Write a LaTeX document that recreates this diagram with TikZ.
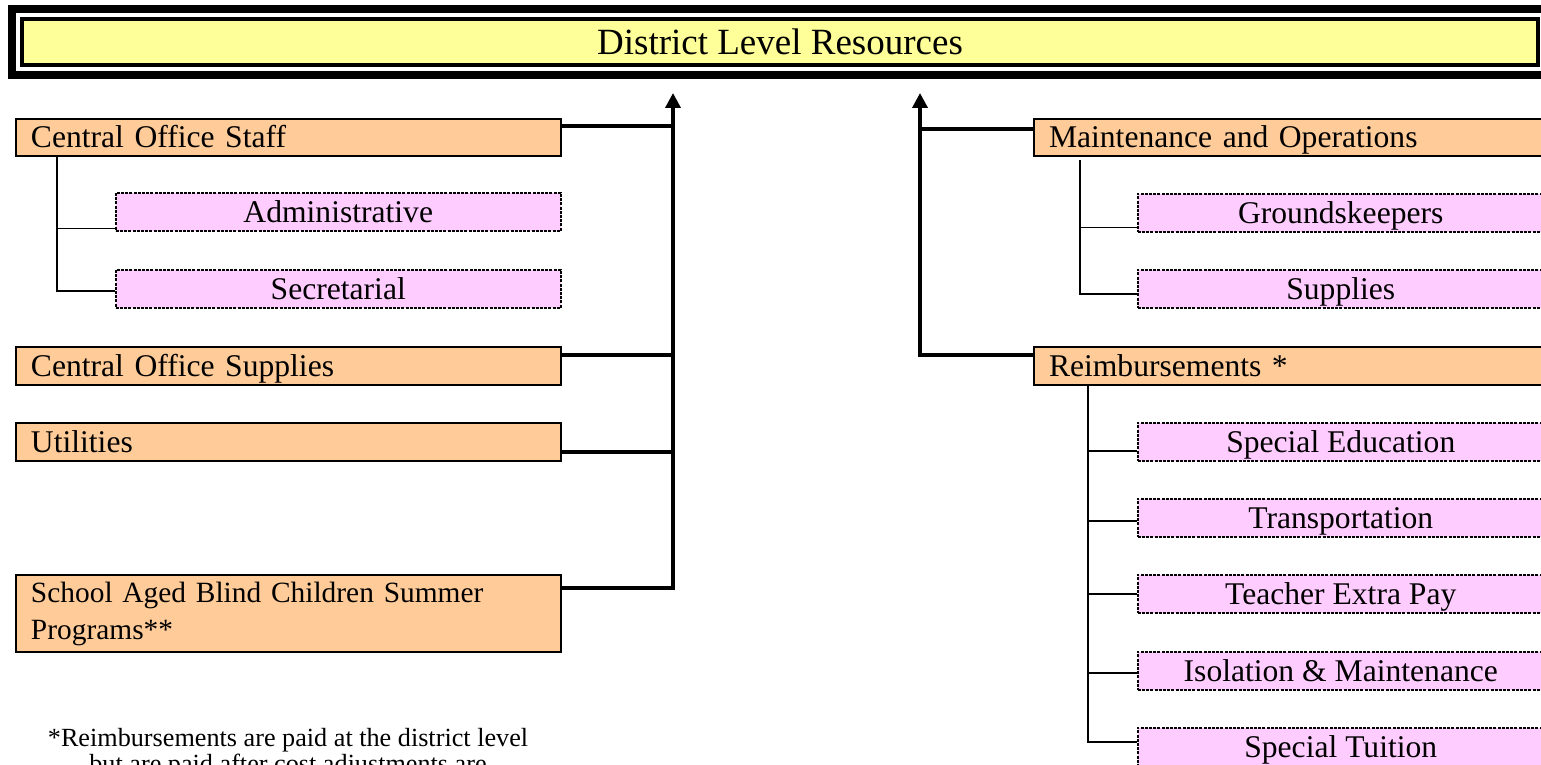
\documentclass[tikz,border=0pt]{standalone}
\usepackage{fontspec}
\setmainfont{Liberation Serif}
\usetikzlibrary{arrows.meta,calc}
\definecolor{ofill}{HTML}{FFCC99}
\definecolor{pfill}{HTML}{FFCCFF}
\definecolor{yfill}{HTML}{FFFF99}
\begin{document}
\begin{tikzpicture}[x=0.5pt,y=-0.5pt,
  obox/.style={draw, line width=1pt, fill=ofill, anchor=north west, inner xsep=7.5pt, inner ysep=0pt,
    align=left, font=\fontsize{15.8}{18.5}\selectfont},
  pbox/.style={draw, line width=0.75pt, dash pattern=on 1.5pt off 0.6pt, fill=pfill, anchor=north west,
    inner sep=0pt, align=center, font=\fontsize{15.8}{18.5}\selectfont},
  one/.style={text height=13pt, text depth=2.5pt},
  bus/.style={line width=1.8pt},
  sub/.style={line width=0.8pt},
  tip/.style={-{Triangle[length=7.5pt,width=7.5pt]}}
]
\useasboundingbox (0,0) rectangle (1541,765);
\clip (0,0) rectangle (1541,765);
% title banner
\draw[line width=4pt] (12,9) rectangle (1560,75);
\node[draw, line width=2pt, fill=yfill, minimum width=758pt, minimum height=23pt, inner sep=0pt,
  font=\fontsize{18.5}{22}\selectfont] (title) at (780,41.7) {District Level Resources};
% left column
\node[obox, one, text width=257.5pt, minimum height=18.5pt] (cos) at (15,118) {Central Office Staff};
\node[pbox, one, minimum width=222.5pt, minimum height=19pt] (adm) at (115,192) {Administrative};
\node[pbox, one, minimum width=222.5pt, minimum height=19pt] (sec) at (115,269) {Secretarial};
\node[obox, one, text width=257.5pt, minimum height=19pt] (cosup) at (15,346) {Central Office Supplies};
\node[obox, one, text width=257.5pt, minimum height=19pt] (util) at (15,422) {Utilities};
\node[obox, text width=257.5pt, minimum height=38.5pt, font=\fontsize{14.7}{18.5}\selectfont] (sabc) at (15,574)
  {School Aged Blind Children Summer\\Programs**};
\node[anchor=north, align=center, inner sep=0pt, font=\fontsize{13.1}{13}\selectfont] (note) at (288,728)
  {*Reimbursements are paid at the district level\\but are paid after cost adjustments are};
% right column
\node[obox, one, text width=240pt, minimum height=18.5pt] (mo) at (1033,118) {Maintenance and Operations};
\node[pbox, one, minimum width=203pt, minimum height=19pt] (gk) at (1137,193) {Groundskeepers};
\node[pbox, one, minimum width=203pt, minimum height=19pt] (sup) at (1137,269) {Supplies};
\node[obox, one, text width=240pt, minimum height=19pt] (reimb) at (1033,346) {Reimbursements *};
\node[pbox, one, minimum width=203pt, minimum height=19pt] (sped) at (1137,422) {Special Education};
\node[pbox, one, minimum width=203pt, minimum height=19pt] (trans) at (1137,498) {Transportation};
\node[pbox, one, minimum width=203pt, minimum height=19pt] (tep) at (1137,574) {Teacher Extra Pay};
\node[pbox, one, minimum width=203pt, minimum height=19pt] (iso) at (1137,651) {Isolation \& Maintenance};
\node[pbox, one, minimum width=203pt, minimum height=19pt] (stui) at (1137,727) {Special Tuition};
% buses
\coordinate (ltop) at (673,93);
\coordinate (rtop) at (920,93);
\draw[bus,tip] ($(sabc.north east)+(0,14)$) -| (ltop);
\draw[bus] ($(cos.north east)+(0,8)$) coordinate (c1) -- (c1 -| ltop);
\draw[bus] ($(cosup.north east)+(0,9)$) coordinate (c2) -- (c2 -| ltop);
\draw[bus] ($(util.north east)+(0,30)$) coordinate (c3) -- (c3 -| ltop);
\draw[bus,tip] ($(reimb.north west)+(0,9)$) -| (rtop);
\draw[bus] ($(mo.north west)+(0,11)$) coordinate (c4) -- (c4 -| rtop);
% sub trees
\coordinate (t1) at ($(cos.south west)+(42,0)$);
\coordinate (a1) at ($(adm.south west)+(0,-3)$);
\coordinate (s1) at ($(sec.west)+(0,2)$);
\draw[sub] (t1) |- (s1);
\draw[sub] (a1) -- (a1 -| t1);
\coordinate (t2) at ($(mo.south west)+(47,3)$);
\coordinate (g1) at ($(gk.south west)+(0,-5)$);
\coordinate (u1) at ($(sup.west)+(0,5)$);
\draw[sub] (t2) |- (u1);
\draw[sub] (g1) -- (g1 -| t2);
\coordinate (t3) at ($(reimb.south west)+(55,0)$);
\coordinate (r1) at ($(sped.west)+(0,9)$);
\coordinate (r2) at ($(trans.west)+(0,3)$);
\coordinate (r3) at (tep.west);
\coordinate (r4) at ($(iso.west)+(0,2)$);
\coordinate (r5) at ($(stui.north west)+(0,15)$);
\draw[sub] (t3) |- (r5);
\draw[sub] (r1) -- (r1 -| t3);
\draw[sub] (r2) -- (r2 -| t3);
\draw[sub] (r3) -- (r3 -| t3);
\draw[sub] (r4) -- (r4 -| t3);
\end{tikzpicture}
\end{document}
